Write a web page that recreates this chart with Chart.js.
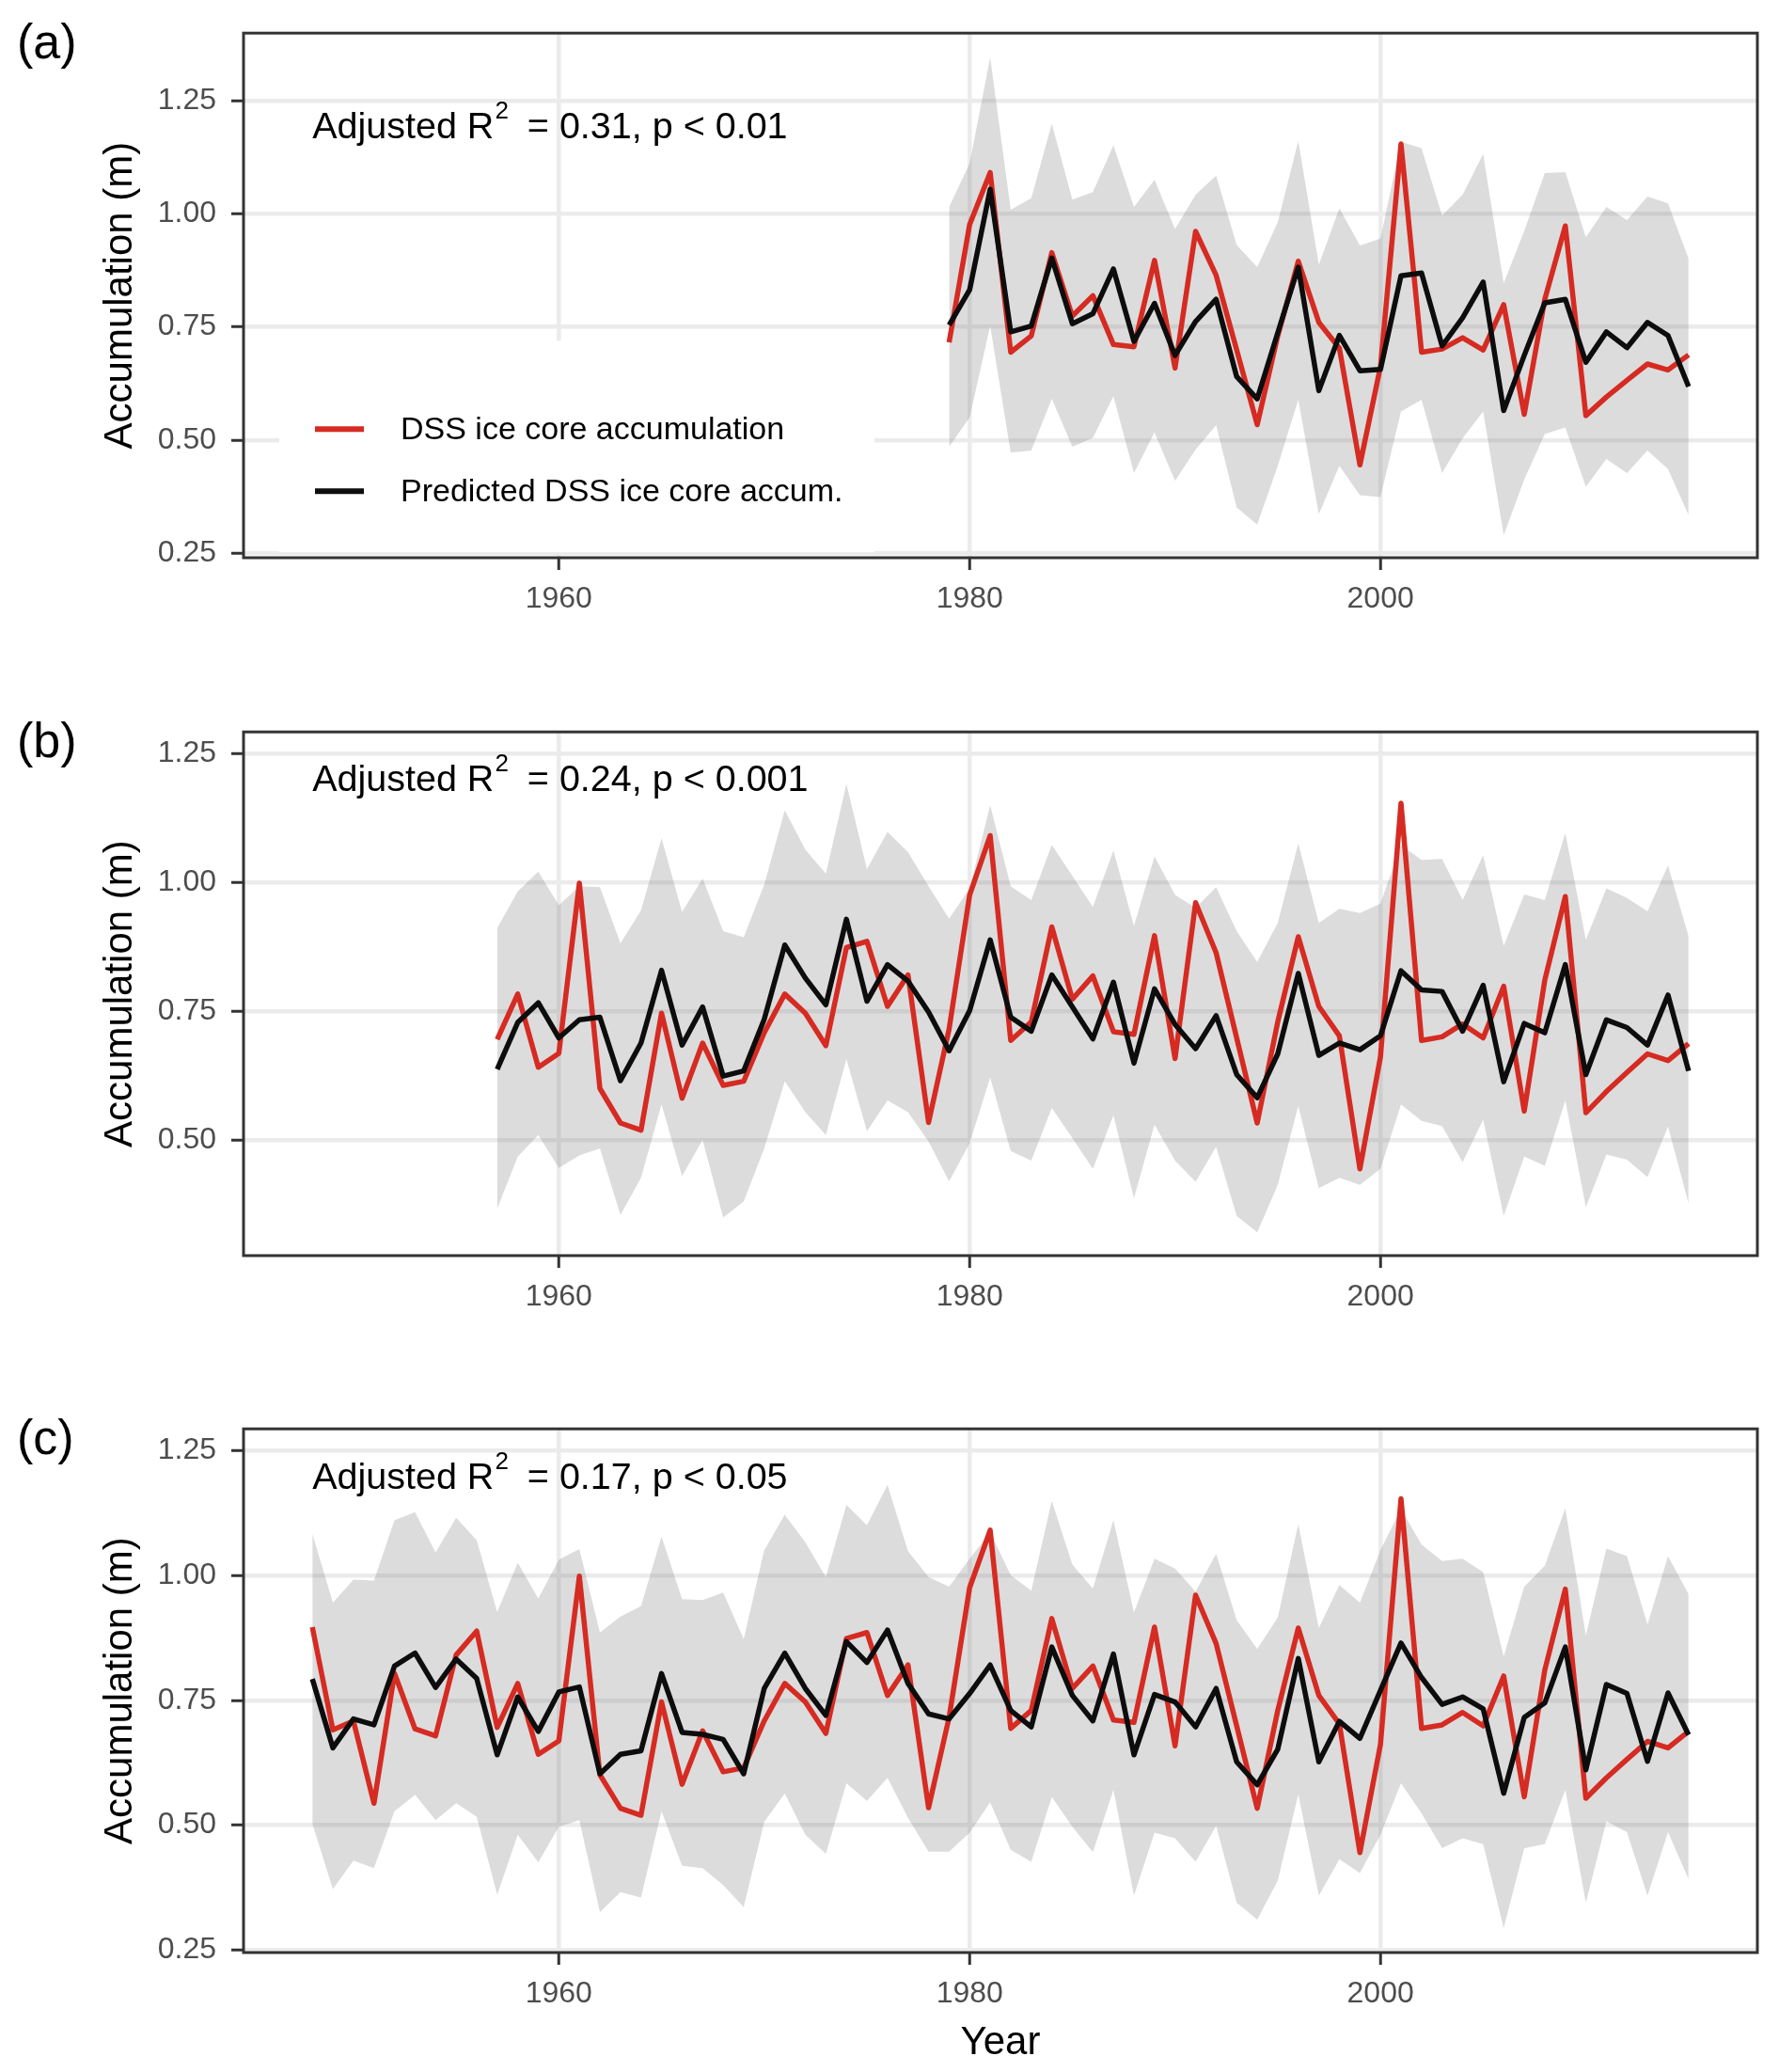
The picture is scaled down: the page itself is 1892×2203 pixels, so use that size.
<!DOCTYPE html>
<html>
<head>
<meta charset="utf-8">
<script src="https://cdn.jsdelivr.net/npm/chart.js@4.4.1/dist/chart.umd.min.js"></script>
<style>
  body { margin: 0; background: #fff; }
  #wrap { position: relative; width: 1892px; height: 2203px; background: #fff; overflow: hidden; }
  .panel { position: absolute; left: 0; width: 1892px; }
  canvas { display: block; }
</style>
</head>
<body>
<div id="wrap">
  <div class="panel" style="top:0px"><canvas id="chartA" width="1892" height="653"></canvas></div>
  <div class="panel" style="top:743px"><canvas id="chartB" width="1892" height="652"></canvas></div>
  <div class="panel" style="top:1484px"><canvas id="chartC" width="1892" height="718"></canvas></div>
</div>
<script>
Chart.defaults.font.family = '"Liberation Sans", Arial, Helvetica, sans-serif';

// years of the DSS record
const years = [1948,1949,1950,1951,1952,1953,1954,1955,1956,1957,
  1958,1959,1960,1961,1962,1963,1964,1965,1966,1967,
  1968,1969,1970,1971,1972,1973,1974,1975,1976,1977,
  1978,1979,1980,1981,1982,1983,1984,1985,1986,1987,
  1988,1989,1990,1991,1992,1993,1994,1995,1996,1997,
  1998,1999,2000,2001,2002,2003,2004,2005,2006,2007,
  2008,2009,2010,2011,2012,2013,2014,2015];

// DSS ice core accumulation (m)
const observed = [0.897,0.691,0.709,0.544,0.804,0.693,0.679,0.841,0.889,0.696,
  0.784,0.642,0.669,0.999,0.601,0.534,0.520,0.747,0.582,0.689,
  0.607,0.615,0.709,0.784,0.747,0.684,0.874,0.886,0.760,0.821,
  0.535,0.716,0.976,1.091,0.694,0.730,0.914,0.774,0.819,0.711,
  0.706,0.897,0.659,0.961,0.864,0.699,0.534,0.730,0.895,0.760,
  0.703,0.445,0.662,1.154,0.694,0.701,0.726,0.699,0.799,0.557,
  0.811,0.973,0.554,0.595,0.632,0.668,0.655,0.688];

// panel (a): 1979-2015
const startA = 1979;
const predA = [0.754,0.832,1.054,0.739,0.752,0.902,0.757,0.779,0.878,0.718,
  0.802,0.687,0.762,0.811,0.640,0.591,0.737,0.882,0.609,0.731,
  0.653,0.656,0.863,0.869,0.708,0.770,0.849,0.565,0.687,0.803,
  0.811,0.672,0.739,0.704,0.760,0.731,0.618];
const upperA = [1.015,1.111,1.345,1.009,1.034,1.199,1.031,1.048,1.151,1.015,
  1.075,0.966,1.042,1.084,0.931,0.882,0.981,1.161,0.887,1.012,
  0.930,0.945,1.159,1.145,0.996,1.042,1.132,0.846,0.962,1.090,
  1.092,0.948,1.015,0.986,1.038,1.023,0.901];
const lowerA = [0.485,0.550,0.752,0.472,0.477,0.591,0.485,0.505,0.597,0.427,
  0.517,0.410,0.479,0.533,0.351,0.313,0.443,0.589,0.336,0.443,
  0.378,0.374,0.563,0.589,0.427,0.504,0.563,0.290,0.413,0.513,
  0.528,0.397,0.458,0.427,0.477,0.436,0.334];

// panel (b): 1957-2015
const startB = 1957;
const predB = [0.638,0.729,0.767,0.699,0.734,0.739,0.616,0.689,0.830,0.685,
  0.759,0.625,0.635,0.735,0.879,0.815,0.763,0.929,0.770,0.841,
  0.809,0.749,0.674,0.752,0.889,0.739,0.712,0.821,0.759,0.697,
  0.807,0.650,0.794,0.725,0.678,0.742,0.628,0.583,0.668,0.824,
  0.665,0.689,0.676,0.703,0.829,0.792,0.789,0.712,0.801,0.614,
  0.727,0.709,0.841,0.628,0.734,0.719,0.685,0.782,0.635];
const upperB = [0.912,0.983,1.021,0.956,0.993,0.991,0.882,0.946,1.086,0.943,
  1.008,0.906,0.894,0.996,1.140,1.064,1.017,1.191,1.026,1.098,
  1.059,0.993,0.930,0.989,1.150,0.993,0.966,1.073,1.013,0.953,
  1.062,0.916,1.051,0.976,0.951,0.991,0.906,0.846,0.922,1.076,
  0.922,0.949,0.941,0.959,1.073,1.044,1.046,0.966,1.053,0.877,
  0.977,0.966,1.096,0.889,0.989,0.970,0.944,1.033,0.896];
const lowerB = [0.368,0.469,0.511,0.447,0.471,0.485,0.356,0.428,0.570,0.431,
  0.501,0.351,0.382,0.485,0.615,0.555,0.511,0.658,0.518,0.578,
  0.555,0.498,0.421,0.495,0.622,0.480,0.461,0.563,0.505,0.445,
  0.549,0.388,0.531,0.461,0.420,0.488,0.354,0.322,0.414,0.567,
  0.408,0.428,0.414,0.445,0.570,0.538,0.528,0.458,0.541,0.354,
  0.469,0.451,0.578,0.371,0.473,0.463,0.429,0.527,0.378];

// panel (c): 1948-2015
const startC = 1948;
const predC = [0.793,0.655,0.713,0.701,0.819,0.845,0.776,0.833,0.794,0.641,
  0.757,0.688,0.767,0.777,0.603,0.642,0.649,0.804,0.686,0.682,
  0.672,0.603,0.774,0.845,0.774,0.720,0.868,0.826,0.891,0.784,
  0.723,0.713,0.764,0.821,0.730,0.697,0.857,0.760,0.709,0.843,
  0.641,0.762,0.747,0.697,0.774,0.627,0.581,0.652,0.834,0.627,
  0.708,0.674,0.770,0.865,0.796,0.742,0.757,0.733,0.564,0.716,
  0.745,0.857,0.611,0.782,0.764,0.628,0.765,0.681];
const upperC = [1.084,0.946,0.992,0.990,1.111,1.127,1.046,1.116,1.071,0.927,
  1.026,0.954,1.032,1.053,0.886,0.918,0.939,1.078,0.953,0.951,
  0.966,0.873,1.051,1.122,1.067,0.997,1.142,1.101,1.182,1.049,
  0.997,0.978,1.034,1.087,1.001,0.970,1.150,1.022,0.974,1.111,
  0.926,1.034,1.014,0.968,1.044,0.911,0.853,0.916,1.103,0.895,
  0.981,0.946,1.051,1.134,1.062,1.029,1.034,1.007,0.838,0.978,
  1.020,1.135,0.880,1.054,1.039,0.902,1.039,0.963];
const lowerC = [0.503,0.372,0.429,0.414,0.528,0.561,0.510,0.544,0.517,0.361,
  0.481,0.426,0.497,0.510,0.326,0.366,0.355,0.528,0.419,0.414,
  0.380,0.336,0.507,0.564,0.481,0.443,0.584,0.549,0.595,0.515,
  0.447,0.447,0.485,0.546,0.451,0.427,0.557,0.497,0.446,0.571,
  0.359,0.485,0.474,0.427,0.499,0.345,0.311,0.389,0.562,0.359,
  0.432,0.404,0.481,0.584,0.524,0.454,0.474,0.462,0.294,0.454,
  0.462,0.571,0.345,0.508,0.486,0.359,0.486,0.392];

const xTicks = [1960, 1980, 2000];
const yTicks = [0.25, 0.50, 0.75, 1.00, 1.25];
const fitText = ['= 0.31, p < 0.01', '= 0.24, p < 0.001', '= 0.17, p < 0.05'];
const noteAt = [1948, 1.25];   // text anchored top-left here, like annotate()

const RED = '#d52b22';
const BLACK = '#0d0d0d';
const BAND = 'rgba(128,128,128,0.28)';

function pts(start, vals) {
  const yrs = years.slice(years.indexOf(start));
  return vals.map((v, i) => ({ x: yrs[i], y: v }));
}

const decor = {
  id: 'decor',
  beforeDatasetsDraw(chart, args, o) {
    if (!o.legend) return;
    const a = chart.chartArea, ctx = chart.ctx;
    ctx.save();
    ctx.fillStyle = '#fff';
    ctx.fillRect(a.left + 38, a.top + 327, 633, 225);
    ctx.restore();
  },
  afterDatasetsDraw(chart, args, o) {
    const ctx = chart.ctx, a = chart.chartArea;
    const sx = chart.scales.x, sy = chart.scales.y;
    const fam = Chart.defaults.font.family;
    ctx.save();
    // panel border
    ctx.strokeStyle = '#333';
    ctx.lineWidth = 3;
    ctx.strokeRect(a.left, a.top, a.right - a.left, a.bottom - a.top);

    // panel tag
    ctx.fillStyle = '#000';
    ctx.textAlign = 'left';
    ctx.textBaseline = 'middle';
    ctx.font = '52px ' + fam;
    ctx.fillText(o.tag, 18, a.top + 12);

    // adjusted R2 note
    const x0 = sx.getPixelForValue(noteAt[0]);
    const y0 = sy.getPixelForValue(noteAt[1]);
    ctx.textBaseline = 'alphabetic';
    ctx.font = '39.5px ' + fam;
    const base = y0 + 40;
    ctx.fillText('Adjusted R', x0, base);
    let x = x0 + ctx.measureText('Adjusted R').width + 1;
    ctx.font = '26px ' + fam;
    ctx.fillText('2', x, base - 21);
    x += ctx.measureText('2').width + 20;
    ctx.font = '39.5px ' + fam;
    ctx.fillText(o.fit, x, base);

    // legend
    if (o.legend) {
      const ds = chart.data.datasets.slice(2);
      ctx.font = '34px ' + fam;
      ctx.textBaseline = 'middle';
      ds.forEach((d, i) => {
        const yy = a.top + 421 + i * 66;
        ctx.strokeStyle = d.borderColor;
        ctx.lineWidth = 6;
        ctx.beginPath();
        ctx.moveTo(a.left + 76, yy);
        ctx.lineTo(a.left + 128, yy);
        ctx.stroke();
        ctx.fillStyle = '#000';
        ctx.fillText(d.label, a.left + 167, yy + 1);
      });
    }
    ctx.restore();
  }
};

function makeChart(id, p) {
  const obs = observed.slice(years.indexOf(p.start));
  return new Chart(document.getElementById(id), {
    type: 'line',
    data: {
      datasets: [
        { label: 'lower', data: pts(p.start, p.lower), borderWidth: 0, pointRadius: 0, fill: false, order: 3 },
        { label: 'upper', data: pts(p.start, p.upper), borderWidth: 0, pointRadius: 0, fill: '-1', backgroundColor: BAND, order: 2 },
        { label: 'DSS ice core accumulation', data: pts(p.start, obs), borderColor: RED, borderWidth: 5.5, pointRadius: 0, fill: false, order: 1 },
        { label: 'Predicted DSS ice core accum.', data: pts(p.start, p.pred), borderColor: BLACK, borderWidth: 5.5, pointRadius: 0, fill: false, order: 0 }
      ]
    },
    options: {
      responsive: false,
      animation: false,
      devicePixelRatio: 1,
      layout: { padding: { left: 99, right: 23, top: 31, bottom: 0 } },
      elements: { line: { tension: 0, borderJoinStyle: 'round', borderCapStyle: 'butt' } },
      plugins: {
        legend: { display: false },
        tooltip: { enabled: false },
        decor: { tag: p.tag, fit: p.fit, legend: p.legend }
      },
      scales: {
        x: {
          type: 'linear',
          min: 1944.65,
          max: 2018.35,
          afterBuildTicks: s => { s.ticks = xTicks.map(v => ({ value: v })); },
          afterFit: s => { s.height = p.xHeight; },
          grid: { color: '#ebebeb', lineWidth: 4.5, tickColor: '#333', tickWidth: 3, tickLength: 13 },
          border: { display: false },
          ticks: { color: '#4d4d4d', font: { size: 32 }, padding: 12, maxRotation: 0, callback: v => String(v) },
          title: { display: !!p.xTitle, text: p.xTitle || '', color: '#000', font: { size: 42 }, padding: { top: 4, bottom: 4 } }
        },
        y: {
          min: p.yMin,
          max: p.yMax,
          afterBuildTicks: s => {
            s.ticks = yTicks.filter(v => v >= s.min && v <= s.max).map(v => ({ value: v }));
          },
          afterFit: s => { s.width = 160; },
          grid: { color: '#ebebeb', lineWidth: 4.5, tickColor: '#333', tickWidth: 3, tickLength: 13 },
          border: { display: false },
          ticks: { color: '#4d4d4d', font: { size: 32 }, padding: 16, callback: v => Number(v).toFixed(2) },
          title: { display: true, text: 'Accumulation (m)', color: '#000', font: { size: 42 }, padding: { top: 4, bottom: 4 } }
        }
      }
    },
    plugins: [decor]
  });
}

makeChart('chartA', { start: startA, pred: predA, upper: upperA, lower: lowerA,
  yMin: 0.240, yMax: 1.399, tag: '(a)', fit: fitText[0], legend: true, xHeight: 60 });
makeChart('chartB', { start: startB, pred: predB, upper: upperB, lower: lowerB,
  yMin: 0.277, yMax: 1.292, tag: '(b)', fit: fitText[1], legend: false, xHeight: 60 });
makeChart('chartC', { start: startC, pred: predC, upper: upperC, lower: lowerC,
  yMin: 0.245, yMax: 1.294, tag: '(c)', fit: fitText[2], legend: false, xHeight: 126, xTitle: 'Year' });
</script>
</body>
</html>
